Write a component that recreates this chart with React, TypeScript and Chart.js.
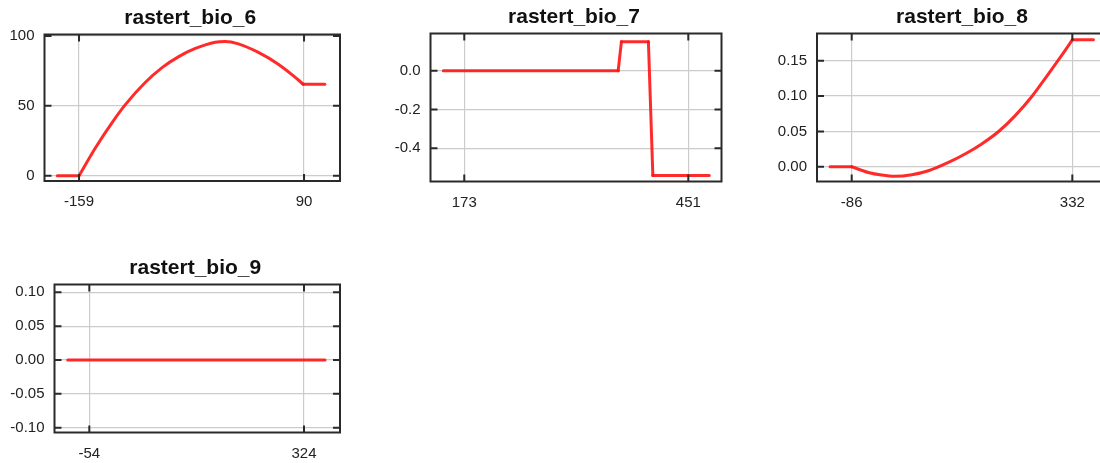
import React, { useEffect, useRef } from "react";
import { Chart, registerables } from "chart.js";

Chart.register(...registerables);

// ---- Data ----
const bio6X = [-183, -159, -140.6, -122.2, -107.5, -85.5, -67.1, -48.7, -30.3, -8.3, 2.7, 17.4, 39.5, 61.5, 78, 89, 113];
const bio6Y = [0, 0, 20.2, 38.2, 51.0, 66.8, 77.3, 85.2, 91.0, 95.5, 96.0, 94.3, 88.2, 79.8, 71.6, 65.5, 65.5];
const bio6Kinks = [1, 15];
const bio6XTicks = [-159, 90];
const bio6XLabels = ["-159", "90"];
const bio6YTicks = [0, 50, 100];
const bio6YLabels = ["0", "50", "100"];
const bio6XRange = [-197.2, 129.8];
const bio6YRange = [-3.8, 101];

const bio7X = [147, 364, 368, 401.5, 407, 477];
const bio7Y = [0, 0, 0.15, 0.15, -0.54, -0.54];
const bio7Kinks = [1, 2, 3, 4];
const bio7XTicks = [173, 451];
const bio7XLabels = ["173", "451"];
const bio7YTicks = [0, -0.2, -0.4];
const bio7YLabels = ["0.0", "-0.2", "-0.4"];
const bio7XRange = [131.1, 492.2];
const bio7YRange = [-0.571, 0.192];

const bio8X = [-127, -86, -54.5, -29.2, -4, 27.7, 59.3, 97.2, 128.7, 160.3, 191.8, 223.4, 255, 286.5, 311.8, 332, 372];
const bio8Y = [0, 0, -0.0081, -0.0118, -0.0136, -0.0114, -0.0057, 0.0061, 0.018, 0.0323, 0.0495, 0.072, 0.099, 0.131, 0.1575, 0.1795, 0.1795];
const bio8Kinks = [1, 15];
const bio8XTicks = [-86, 332];
const bio8XLabels = ["-86", "332"];
const bio8YTicks = [0, 0.05, 0.1, 0.15];
const bio8YLabels = ["0.00", "0.05", "0.10", "0.15"];
const bio8XRange = [-151.75, 405.3];
const bio8YRange = [-0.0209, 0.1885];

const bio9X = [-92, 361];
const bio9Y = [0, 0];
const bio9Kinks: number[] = [];
const bio9XTicks = [-54, 324];
const bio9XLabels = ["-54", "324"];
const bio9YTicks = [-0.1, -0.05, 0, 0.05, 0.1];
const bio9YLabels = ["-0.10", "-0.05", "0.00", "0.05", "0.10"];
const bio9XRange = [-115.3, 387.4];
const bio9YRange = [-0.1071, 0.1115];

const FONT = "'Liberation Sans', Arial, Helvetica, sans-serif";

type PanelDef = {
  title: string;
  xs: number[];
  ys: number[];
  kinks: number[];
  xTicks: number[];
  xLabels: string[];
  yTicks: number[];
  yLabels: string[];
  xRange: number[];
  yRange: number[];
  canvas: { left: number; top: number; width: number; height: number };
  box: { left: number; top: number; right: number; bottom: number };
};

const panels: PanelDef[] = [
  {
    title: "rastert_bio_6", xs: bio6X, ys: bio6Y, kinks: bio6Kinks, xTicks: bio6XTicks, xLabels: bio6XLabels,
    yTicks: bio6YTicks, yLabels: bio6YLabels, xRange: bio6XRange, yRange: bio6YRange,
    canvas: { left: 0, top: 0, width: 360, height: 225 },
    box: { left: 44.5, top: 34.5, right: 340, bottom: 181 },
  },
  {
    title: "rastert_bio_7", xs: bio7X, ys: bio7Y, kinks: bio7Kinks, xTicks: bio7XTicks, xLabels: bio7XLabels,
    yTicks: bio7YTicks, yLabels: bio7YLabels, xRange: bio7XRange, yRange: bio7YRange,
    canvas: { left: 370, top: 0, width: 370, height: 225 },
    box: { left: 430.5, top: 33.5, right: 721.5, bottom: 181.5 },
  },
  {
    title: "rastert_bio_8", xs: bio8X, ys: bio8Y, kinks: bio8Kinks, xTicks: bio8XTicks, xLabels: bio8XLabels,
    yTicks: bio8YTicks, yLabels: bio8YLabels, xRange: bio8XRange, yRange: bio8YRange,
    canvas: { left: 740, top: 0, width: 390, height: 225 },
    box: { left: 817, top: 33.5, right: 1111, bottom: 181.5 },
  },
  {
    title: "rastert_bio_9", xs: bio9X, ys: bio9Y, kinks: bio9Kinks, xTicks: bio9XTicks, xLabels: bio9XLabels,
    yTicks: bio9YTicks, yLabels: bio9YLabels, xRange: bio9XRange, yRange: bio9YRange,
    canvas: { left: 0, top: 250, width: 360, height: 213 },
    box: { left: 54.5, top: 284.5, right: 340, bottom: 432.5 },
  },
];

const framePlugin = {
  id: "frameAndTitle",
  afterDatasetsDraw(chart: any, _args: any, opts: any) {
    const { ctx, chartArea: a, scales } = chart;
    ctx.save();
    ctx.strokeStyle = "#2a2a2a";
    ctx.lineWidth = 2;
    ctx.strokeRect(a.left, a.top, a.right - a.left, a.bottom - a.top);
    const tl = 7;
    ctx.beginPath();
    for (const t of scales.x.ticks) {
      const px = scales.x.getPixelForValue(t.value);
      ctx.moveTo(px, a.bottom);
      ctx.lineTo(px, a.bottom - tl);
      ctx.moveTo(px, a.top);
      ctx.lineTo(px, a.top + tl);
    }
    for (const t of scales.y.ticks) {
      const py = scales.y.getPixelForValue(t.value);
      ctx.moveTo(a.left, py);
      ctx.lineTo(a.left + tl, py);
      ctx.moveTo(a.right, py);
      ctx.lineTo(a.right - tl, py);
    }
    ctx.stroke();
    // title
    ctx.fillStyle = "#111";
    ctx.font = `bold 21px ${FONT}`;
    ctx.textAlign = "center";
    ctx.textBaseline = "alphabetic";
    ctx.fillText(opts.text, (a.left + a.right) / 2 - 2, a.top - 11);
    ctx.restore();
  },
};

function buildSegments(p: PanelDef) {
  const pts = p.xs.map((x, i) => ({ x, y: p.ys[i] }));
  const cuts = [0, ...p.kinks, pts.length - 1];
  const segs: { x: number; y: number }[][] = [];
  for (let i = 0; i < cuts.length - 1; i++) {
    segs.push(pts.slice(cuts[i], cuts[i + 1] + 1));
  }
  return segs;
}

function Panel({ p }: { p: PanelDef }) {
  const ref = useRef<HTMLCanvasElement | null>(null);
  useEffect(() => {
    if (!ref.current) return;
    const c = p.canvas;
    const b = p.box;
    const yWidth = b.left - c.left;
    const xHeight = c.top + c.height - b.bottom;
    const padTop = b.top - c.top;
    const padRight = c.left + c.width - b.right;
    const segs = buildSegments(p);
    const chart = new Chart(ref.current, {
      type: "line",
      data: {
        datasets: segs.map((data) => ({
          data,
          borderColor: "rgba(255,20,20,0.9)",
          borderWidth: 3,
          pointRadius: 0,
          cubicInterpolationMode: "monotone" as const,
          borderCapStyle: "round" as const,
          borderJoinStyle: "round" as const,
          fill: false,
        })),
      },
      options: {
        responsive: false,
        animation: false,
        devicePixelRatio: 1,
        layout: { padding: { top: padTop, right: padRight, left: 0, bottom: 0 } },
        plugins: {
          legend: { display: false },
          tooltip: { enabled: false },
          title: { display: false },
          frameAndTitle: { text: p.title },
        } as any,
        scales: {
          x: {
            type: "linear",
            min: p.xRange[0],
            max: p.xRange[1],
            afterBuildTicks: (s: any) => {
              s.ticks = p.xTicks.map((v) => ({ value: v }));
            },
            afterFit: (s: any) => {
              s.height = xHeight;
            },
            ticks: {
              autoSkip: false,
              maxRotation: 0,
              padding: 12,
              color: "#222",
              font: { family: FONT, size: 15 },
              callback: (_v: any, i: number) => p.xLabels[i],
            },
            grid: { color: "#cccccc", lineWidth: 1.2, drawTicks: false },
            border: { display: false },
          },
          y: {
            type: "linear",
            min: p.yRange[0],
            max: p.yRange[1],
            afterBuildTicks: (s: any) => {
              s.ticks = p.yTicks.map((v) => ({ value: v }));
            },
            afterFit: (s: any) => {
              s.width = yWidth;
            },
            ticks: {
              autoSkip: false,
              padding: 10,
              color: "#222",
              font: { family: FONT, size: 15 },
              callback: (_v: any, i: number) => p.yLabels[i],
            },
            grid: { color: "#cccccc", lineWidth: 1.2, drawTicks: false },
            border: { display: false },
          },
        },
      },
      plugins: [framePlugin],
    });
    return () => chart.destroy();
  }, [p]);
  const c = p.canvas;
  return (
    <div style={{ position: "absolute", left: c.left, top: c.top, width: c.width, height: c.height }}>
      <canvas ref={ref} width={c.width} height={c.height} style={{ width: c.width, height: c.height, display: "block" }} />
    </div>
  );
}

export default function App() {
  return (
    <div
      style={{
        position: "absolute",
        left: 0,
        top: 0,
        width: 1100,
        height: 463,
        overflow: "hidden",
        background: "#fff",
      }}
    >
      {panels.map((p) => (
        <Panel key={p.title} p={p} />
      ))}
    </div>
  );
}
